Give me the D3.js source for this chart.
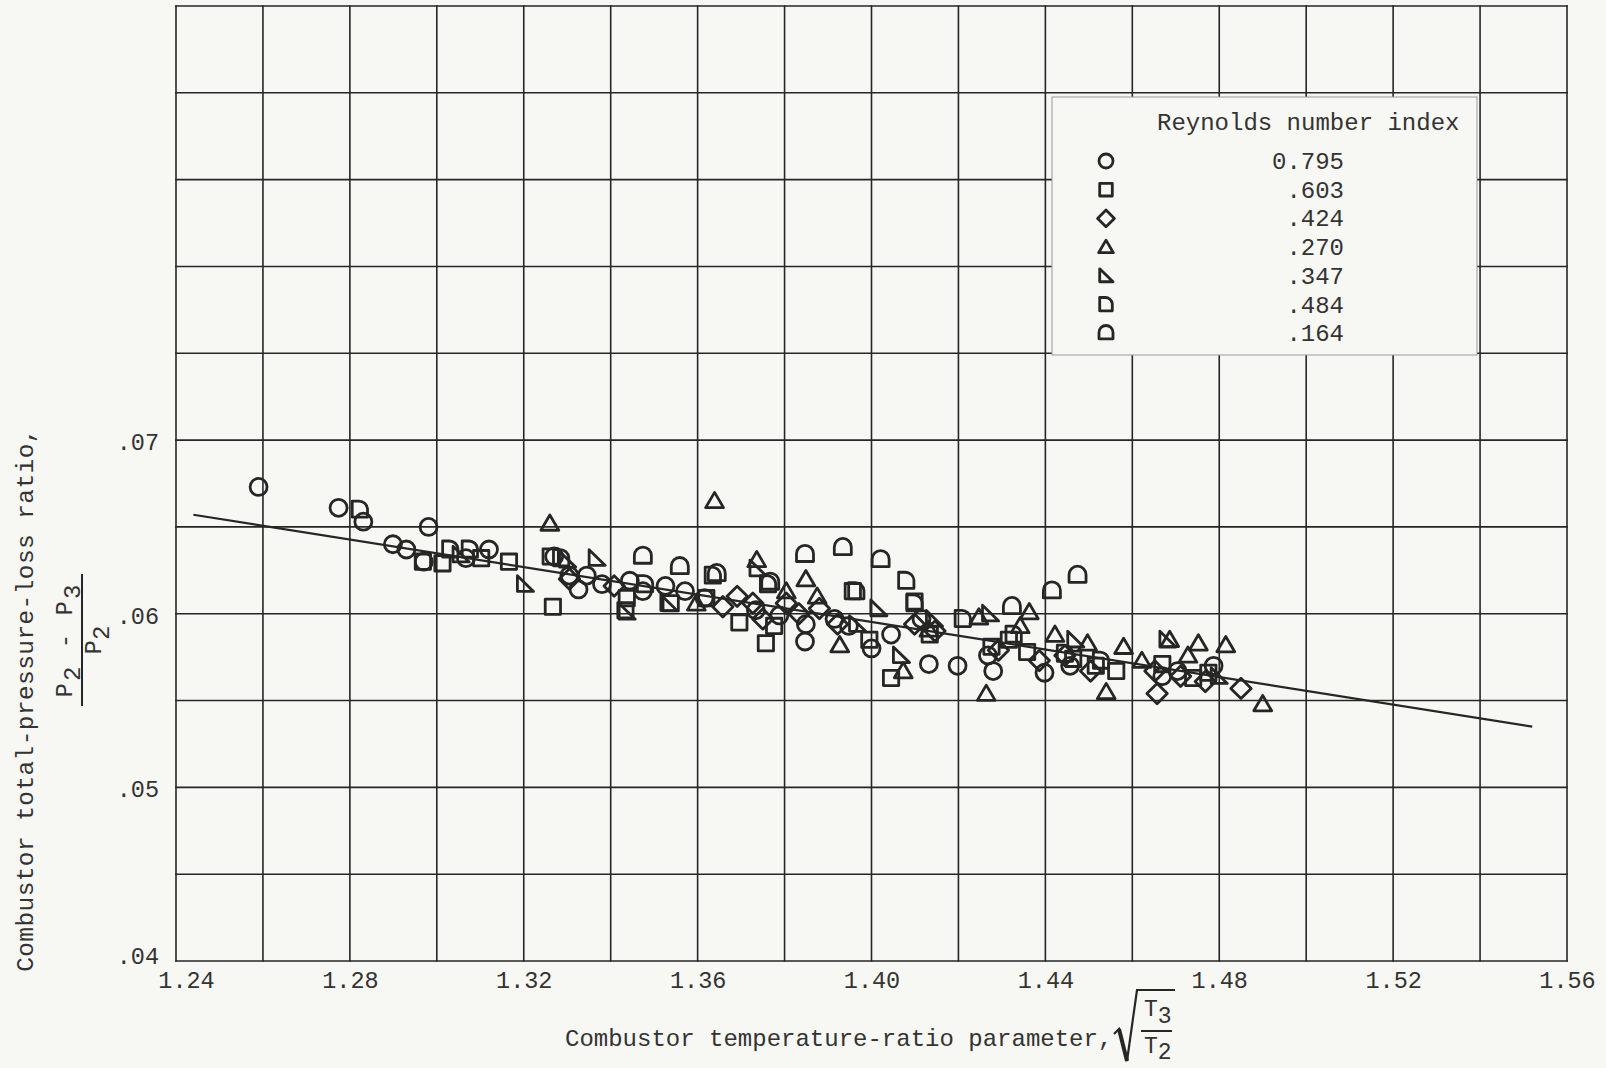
<!DOCTYPE html>
<html>
<head>
<meta charset="utf-8">
<script src="https://cdn.jsdelivr.net/npm/d3@7"></script>
<style>
  html, body { margin: 0; padding: 0; background: #f7f7f3; }
  svg { display: block; }
  text { font-family: "Liberation Mono", "DejaVu Sans Mono", monospace; fill: #333; }
</style>
</head>
<body>
<div id="chart"></div>
<script>
const WIDTH = 1606
const HEIGHT = 1068
const MARGIN = { left: 176, top: 6, right: 39, bottom: 107 }

const INK = '#262626'
const PAPER = '#f7f7f3'

// Axis grid and labels
const xGrid = [1.24, 1.26, 1.28, 1.30, 1.32, 1.34, 1.36, 1.38, 1.40, 1.42, 1.44, 1.46, 1.48, 1.50, 1.52, 1.54, 1.56]
const yGrid = [0.040, 0.045, 0.050, 0.055, 0.060, 0.065, 0.070, 0.075, 0.080, 0.085, 0.090, 0.095]
const xTicks = [1.24, 1.28, 1.32, 1.36, 1.40, 1.44, 1.48, 1.52, 1.56]
const xTickLabels = ['1.24', '1.28', '1.32', '1.36', '1.40', '1.44', '1.48', '1.52', '1.56']
const yTicks = [0.04, 0.05, 0.06, 0.07]
const yTickLabels = ['.04', '.05', '.06', '.07']

// Reynolds number index series
const reynoldsLabels = ['0.795', '.603', '.424', '.270', '.347', '.484', '.164']
const reynoldsShapes = ['circle', 'square', 'diamond', 'triangle', 'rtri', 'quarter', 'dome']

const re795 = [
  [1.259, .0673], [1.2774, .0661], [1.2831, .0653], [1.2981, .0650], [1.2899, .0640],
  [1.2930, .0637], [1.2970, .0630], [1.3120, .0637], [1.3067, .0632], [1.3270, .0633],
  [1.3305, .0622], [1.3345, .0622], [1.3326, .0614], [1.3474, .0613], [1.3444, .0619],
  [1.3380, .0617], [1.3526, .0616], [1.3571, .0613], [1.3616, .0609], [1.3734, .0602],
  [1.3788, .0599], [1.3847, .0584], [1.3849, .0594], [1.3915, .0597], [1.3948, .0593],
  [1.4000, .0580], [1.4045, .0588], [1.4132, .0571], [1.4198, .0570], [1.4280, .0567],
  [1.4398, .0566], [1.4457, .0570], [1.4669, .0564], [1.4704, .0567], [1.4787, .0570],
  [1.4268, .0576], [1.4115, .0597]
]
const re603 = [
  [1.2968, .0630], [1.3013, .0629], [1.3166, .0630], [1.3267, .0604], [1.3262, .0633],
  [1.3434, .0602], [1.3437, .0609], [1.3538, .0606], [1.3620, .0609], [1.3757, .0583],
  [1.3696, .0595], [1.3776, .0593], [1.3957, .0613], [1.3995, .0585], [1.4045, .0563],
  [1.4099, .0607], [1.4134, .0588], [1.4276, .0581], [1.4316, .0585], [1.4358, .0578],
  [1.4464, .0574], [1.4563, .0567], [1.4669, .0571], [1.4740, .0563], [1.4775, .0566],
  [1.3102, .0632], [1.4516, .0570]
]
const re424 = [
  [1.3305, .0620], [1.3691, .0610], [1.3727, .0606], [1.3750, .0597], [1.3804, .0606],
  [1.3833, .0600], [1.3880, .0603], [1.3922, .0594], [1.4099, .0594], [1.4146, .0590],
  [1.4292, .0579], [1.4386, .0573], [1.4445, .0576], [1.4657, .0554], [1.4652, .0567],
  [1.4711, .0564], [1.4768, .0561], [1.4850, .0557], [1.4504, .0567], [1.3658, .0604],
  [1.3408, .0616]
]
const re270 = [
  [1.3260, .0652], [1.3639, .0665], [1.3736, .0631], [1.3849, .0620], [1.3804, .0613],
  [1.3927, .0582], [1.4073, .0567], [1.4132, .0591], [1.4264, .0554], [1.4342, .0593],
  [1.4422, .0588], [1.4540, .0555], [1.4580, .0581], [1.4686, .0585], [1.4752, .0583],
  [1.4815, .0582], [1.4900, .0548], [1.4363, .0601], [1.4247, .0598], [1.4497, .0583],
  [1.3597, .0606], [1.3875, .0610], [1.4728, .0576], [1.4622, .0573]
]
const re347 = [
  [1.3203, .0617], [1.3300, .0631], [1.3533, .0606], [1.3437, .0601], [1.3738, .0626],
  [1.3967, .0594], [1.4016, .0603], [1.4068, .0576], [1.4144, .0597], [1.4273, .0600],
  [1.4469, .0585], [1.4681, .0585], [1.4799, .0564], [1.3368, .0632], [1.3055, .0634]
]
const re484 = [
  [1.2823, .0660], [1.3031, .0637], [1.3076, .0637], [1.3286, .0632], [1.3635, .0622],
  [1.3762, .0617], [1.3965, .0613], [1.4080, .0619], [1.4099, .0606], [1.4210, .0597],
  [1.4327, .0588], [1.4445, .0577], [1.4528, .0573], [1.3479, .0617]
]
const re164 = [
  [1.3474, .0633], [1.3559, .0627], [1.3644, .0623], [1.3847, .0634], [1.3934, .0638],
  [1.4021, .0631], [1.4323, .0604], [1.4415, .0613], [1.4474, .0622], [1.3767, .0618]
]
const reynoldsSeries = [re795, re603, re424, re270, re347, re484, re164]

// Faired line through the data
const fitX = [1.244, 1.552]
const fitY = [0.0657, 0.0535]

const width = WIDTH - MARGIN.left - MARGIN.right
const height = HEIGHT - MARGIN.top - MARGIN.bottom

const svg = d3.select('#chart')
  .append('svg')
  .attr('width', WIDTH)
  .attr('height', HEIGHT)

svg.append('rect')
  .attr('width', WIDTH)
  .attr('height', HEIGHT)
  .attr('fill', PAPER)

const x = d3.scaleLinear().domain([1.24, 1.56]).range([MARGIN.left, MARGIN.left + width])
const y = d3.scaleLinear().domain([0.04, 0.095]).range([MARGIN.top + height, MARGIN.top])

// Symbol outlines, s is half-size
function symbolPath(kind, s) {
  switch (kind) {
    case 'circle':
      return `M${-s},0A${s},${s} 0 1 0 ${s},0A${s},${s} 0 1 0 ${-s},0Z`
    case 'square':
      s *= 0.9
      return `M${-s},${-s}H${s}V${s}H${-s}Z`
    case 'diamond': {
      const d = s * 1.2
      return `M0,${-d}L${d},0L0,${d}L${-d},0Z`
    }
    case 'triangle':
      return `M0,${-s}L${s * 1.05},${s * 0.8}L${-s * 1.05},${s * 0.8}Z`
    case 'rtri':
      return `M${-s * 0.9},${-s}L${s},${s * 0.85}L${-s * 0.9},${s * 0.85}Z`
    case 'quarter':
      return `M${-s * 0.9},${s * 0.9}V${-s}H${-s * 0.1}A${s},${s} 0 0 1 ${s * 0.9},${-s * 0.1}V${s * 0.9}Z`
    case 'dome':
      return `M${-s},${s * 0.8}V${-s * 0.1}A${s},${s} 0 0 1 ${s},${-s * 0.1}V${s * 0.8}Z`
  }
}

// Grid
const grid = svg.append('g').attr('class', 'grid')
grid.selectAll('.vline')
  .data(xGrid)
  .enter()
  .append('line')
  .attr('x1', d => x(d)).attr('x2', d => x(d))
  .attr('y1', y(0.095)).attr('y2', y(0.04))
grid.selectAll('.hline')
  .data(yGrid)
  .enter()
  .append('line')
  .attr('x1', x(1.24)).attr('x2', x(1.56))
  .attr('y1', d => y(d)).attr('y2', d => y(d))
grid.selectAll('line')
  .attr('stroke', INK)
  .attr('stroke-width', 1.6)
  .attr('stroke-linecap', 'square')

// Tick labels through the axes, no tick marks
const xAxis = svg.append('g')
  .attr('transform', `translate(0,${y(0.04)})`)
  .call(d3.axisBottom(x).tickValues(xTicks).tickSize(0).tickPadding(10)
    .tickFormat((d, i) => xTickLabels[i]))
xAxis.select('.domain').remove()
xAxis.selectAll('text')
  .attr('font-size', 23.5)
  .attr('font-family', null)
  .attr('fill', '#333')
  .attr('dx', (d, i) => i === 0 ? 10 : 0)

const yAxis = svg.append('g')
  .attr('transform', `translate(${x(1.24)},0)`)
  .call(d3.axisLeft(y).tickValues(yTicks).tickSize(0).tickPadding(17)
    .tickFormat((d, i) => yTickLabels[i]))
yAxis.select('.domain').remove()
yAxis.selectAll('text')
  .attr('font-size', 23.5)
  .attr('font-family', null)
  .attr('fill', '#333')
  .attr('dy', (d, i) => i === 0 ? '0.1em' : '0.4em')

// Faired line
svg.append('path')
  .datum(d3.zip(fitX, fitY))
  .attr('d', d3.line().x(d => x(d[0])).y(d => y(d[1])))
  .attr('fill', 'none')
  .attr('stroke', INK)
  .attr('stroke-width', 2.2)

// Data points
reynoldsSeries.forEach((series, i) => {
  svg.append('g')
    .selectAll('path')
    .data(series)
    .enter()
    .append('path')
    .attr('transform', d => `translate(${x(d[0])},${y(d[1])})`)
    .attr('d', symbolPath(reynoldsShapes[i], 8.5))
    .attr('fill', 'none')
    .attr('stroke', INK)
    .attr('stroke-width', 2.8)
    .attr('stroke-linejoin', 'round')
})

// Legend
const legend = svg.append('g')
legend.append('rect')
  .attr('x', 1052).attr('y', 97)
  .attr('width', 425).attr('height', 258)
  .attr('fill', PAPER)
  .attr('stroke', '#9a9a9a')
  .attr('stroke-width', 1)
legend.append('text')
  .attr('x', 1157).attr('y', 130)
  .attr('font-size', 24)
  .text('Reynolds number index')
reynoldsLabels.forEach((label, i) => {
  const cy = 161 + i * 28.7
  legend.append('path')
    .attr('transform', `translate(1106,${cy})`)
    .attr('d', symbolPath(reynoldsShapes[i], 7))
    .attr('fill', 'none')
    .attr('stroke', INK)
    .attr('stroke-width', 2.8)
    .attr('stroke-linejoin', 'round')
  legend.append('text')
    .attr('x', 1344).attr('y', cy + 8)
    .attr('text-anchor', 'end')
    .attr('font-size', 24)
    .text(label)
})

// X axis title with radical
svg.append('text')
  .attr('x', 565).attr('y', 1046)
  .attr('font-size', 24)
  .text('Combustor temperature-ratio parameter,')
svg.append('path')
  .attr('d', 'M1114,1034L1119,1029L1127,1061L1137,990H1175')
  .attr('fill', 'none')
  .attr('stroke', INK)
  .attr('stroke-width', 2.2)
svg.append('path')
  .attr('d', 'M1119,1029L1127,1061')
  .attr('stroke', INK)
  .attr('stroke-width', 4)
svg.append('line')
  .attr('x1', 1141).attr('x2', 1172)
  .attr('y1', 1031).attr('y2', 1031)
  .attr('stroke', INK)
  .attr('stroke-width', 2)
const t3 = svg.append('text').attr('x', 1144).attr('y', 1016).attr('font-size', 23)
t3.append('tspan').text('T')
t3.append('tspan').attr('dy', 7).text('3')
const t2 = svg.append('text').attr('x', 1144).attr('y', 1053).attr('font-size', 23)
t2.append('tspan').text('T')
t2.append('tspan').attr('dy', 6).text('2')

// Y axis title with fraction
svg.append('text')
  .attr('transform', 'translate(33,700) rotate(-90)')
  .attr('text-anchor', 'middle')
  .attr('font-size', 24.5)
  .attr('letter-spacing', 0.4)
  .text('Combustor total-pressure-loss ratio,')
const frac = svg.append('g').attr('transform', 'translate(0,640) rotate(-90)')
const num = frac.append('text')
  .attr('x', 0).attr('y', 72)
  .attr('text-anchor', 'middle')
  .attr('font-size', 24)
  .attr('letter-spacing', 2)
num.append('tspan').text('P')
num.append('tspan').attr('dy', 8).text('2')
num.append('tspan').attr('dy', -8).text(' - P')
num.append('tspan').attr('dy', 8).text('3')
frac.append('line')
  .attr('x1', -66).attr('x2', 66)
  .attr('y1', 82).attr('y2', 82)
  .attr('stroke', INK)
  .attr('stroke-width', 2)
const den = frac.append('text')
  .attr('x', 0).attr('y', 101)
  .attr('text-anchor', 'middle')
  .attr('font-size', 24)
den.append('tspan').text('P')
den.append('tspan').attr('dy', 8).text('2')
</script>
</body>
</html>
